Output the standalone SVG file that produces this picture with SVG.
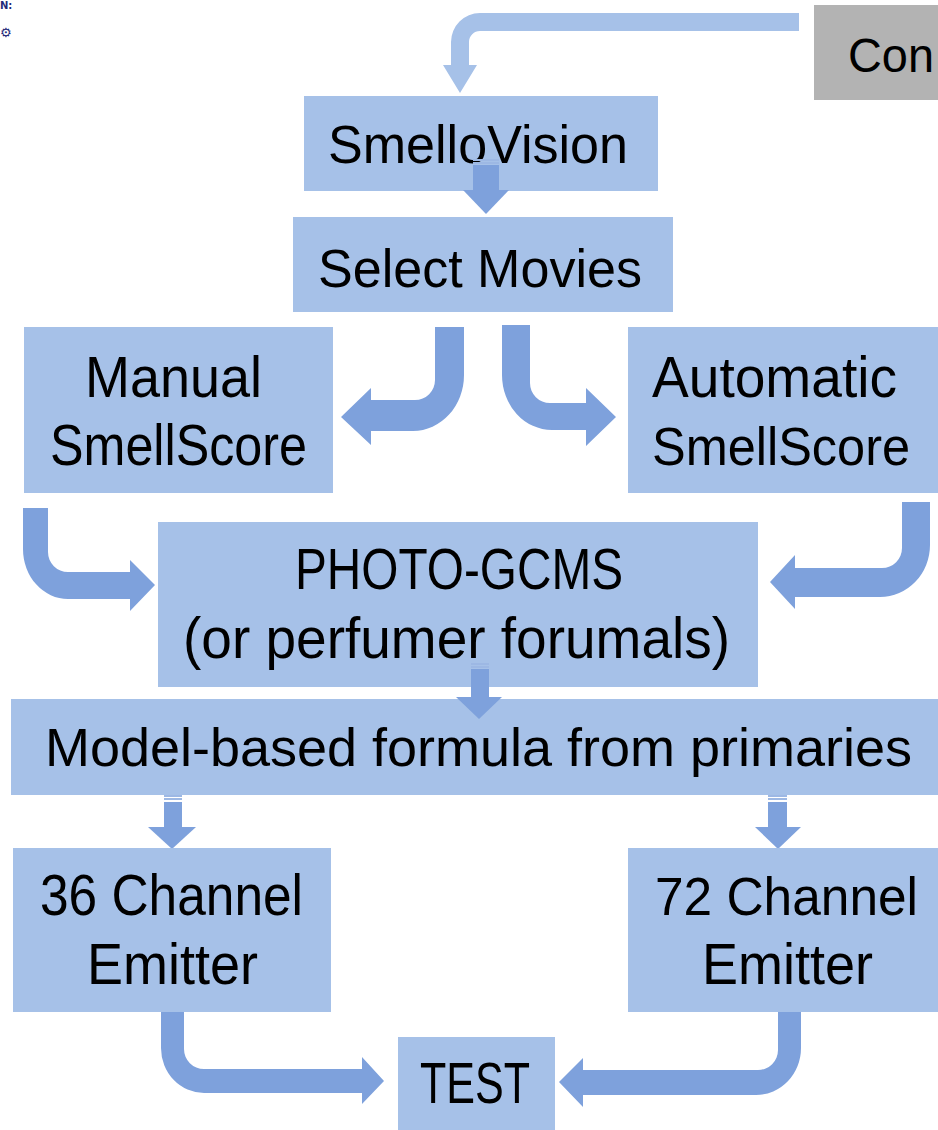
<svg xmlns="http://www.w3.org/2000/svg" width="938" height="1130" viewBox="0 0 938 1130">
<style>
.box{fill:#A6C1E8}
.gray{fill:#B3B3B3}
.t{font-family:"Liberation Sans",Arial,sans-serif;font-size:58px;fill:#000}
.s{font-size:54px}
.arr{fill:#7EA1DC}
.arrl{fill:#A6C1E8}
.stripe{fill:#9DB8E4}
.mark{font-family:"DejaVu Sans",sans-serif;fill:#1F2A7A}
</style>
<rect width="938" height="1130" fill="#fff"/>
<g id="corner-marks">
<text class="mark" x="0" y="9" style="font-size:10px;font-weight:bold">N:</text>
<text class="mark" x="0" y="37" style="font-size:13px">⚙</text>
</g>
<g id="connectors">
<path class="arrl" d="M799,13 H480 A29,29 0 0 0 451,42 V65 H443 L460,93 L477,65 H469 V42 A11,11 0 0 1 480,31 H799 Z"/>
<path class="arr" d="M435,327 H464 V375 A51,56 0 0 1 413,431 H371 V445 L341,417 L371,388 V400 H415 A20,20 0 0 0 435,380 Z"/>
<path class="arr" d="M502,325 H530 V383 A20,20 0 0 0 550,403 H586 V388 L616,417 L586,446 V430 H552 A50,55 0 0 1 502,375 Z"/>
<path class="arr" d="M23,508 H48 V552 A20,20 0 0 0 68,572 H130 V560 L155,585 L130,611 V599 H68 A45,50 0 0 1 23,549 Z"/>
<path class="arr" d="M902,502 H930 V545 A50,52 0 0 1 880,597 H795 V609 L770,582 L795,555 V568 H882 A20,20 0 0 0 902,548 Z"/>
<g id="arr-model-36">
<rect class="arr" x="164" y="802" width="18" height="26"/>
<rect class="stripe" x="164" y="795" width="18" height="2"/>
<rect class="stripe" x="164" y="798" width="18" height="2"/>
<path class="arr" d="M148,827 H196 L172,849 Z"/>
</g>
<g id="arr-model-72">
<rect class="arr" x="768" y="802" width="19" height="26"/>
<rect class="stripe" x="768" y="795" width="19" height="2"/>
<rect class="stripe" x="768" y="798" width="19" height="2"/>
<path class="arr" d="M755,827 H801 L778,849 Z"/>
</g>
<path class="arr" d="M161,1012 H184 V1049 A20,20 0 0 0 204,1069 H362 V1057 L384,1081 L362,1104 V1093 H204 A43,45 0 0 1 161,1048 Z"/>
<path class="arr" d="M778,1012 H801 V1048 A45,47 0 0 1 756,1095 H583 V1107 L559,1082 L583,1058 V1070 H758 A20,20 0 0 0 778,1050 Z"/>
</g>
<g id="node-con">
<rect class="gray" x="814" y="5" width="124" height="95"/>
<text class="t" x="848" y="72" style="font-size:48px" textLength="86" lengthAdjust="spacingAndGlyphs">Con</text>
</g>
<g id="node-smellovision">
<rect class="box" x="304" y="96" width="354" height="95"/>
<text class="t s" x="328" y="163" textLength="300" lengthAdjust="spacingAndGlyphs">SmelloVision</text>
</g>
<g id="node-select-movies">
<rect class="box" x="293" y="217" width="380" height="95"/>
<text class="t s" x="318" y="287" textLength="324" lengthAdjust="spacingAndGlyphs">Select Movies</text>
</g>
<g id="node-manual">
<rect class="box" x="24" y="327" width="309" height="166"/>
<text class="t" x="85" y="397" textLength="177" lengthAdjust="spacingAndGlyphs">Manual</text>
<text class="t" x="50" y="465" textLength="257" lengthAdjust="spacingAndGlyphs">SmellScore</text>
</g>
<g id="node-automatic">
<rect class="box" x="628" y="327" width="310" height="166"/>
<text class="t" x="652" y="397" textLength="245" lengthAdjust="spacingAndGlyphs">Automatic</text>
<text class="t s" x="652" y="465" textLength="258" lengthAdjust="spacingAndGlyphs">SmellScore</text>
</g>
<g id="node-photo-gcms">
<rect class="box" x="158" y="522" width="600" height="165"/>
<text class="t" x="295" y="589" textLength="328" lengthAdjust="spacingAndGlyphs">PHOTO-GCMS</text>
<text class="t" x="183" y="658" textLength="547" lengthAdjust="spacingAndGlyphs">(or perfumer forumals)</text>
</g>
<g id="node-model">
<rect class="box" x="11" y="699" width="927" height="96"/>
<text class="t s" x="45" y="766" textLength="867" lengthAdjust="spacingAndGlyphs">Model-based formula from primaries</text>
</g>
<g id="node-36">
<rect class="box" x="13" y="848" width="318" height="164"/>
<text class="t" x="40" y="915" textLength="263" lengthAdjust="spacingAndGlyphs">36 Channel</text>
<text class="t" x="87" y="984" textLength="171" lengthAdjust="spacingAndGlyphs">Emitter</text>
</g>
<g id="node-72">
<rect class="box" x="628" y="848" width="310" height="164"/>
<text class="t s" x="655" y="915" textLength="263" lengthAdjust="spacingAndGlyphs">72 Channel</text>
<text class="t" x="702" y="984" textLength="171" lengthAdjust="spacingAndGlyphs">Emitter</text>
</g>
<g id="node-test">
<rect class="box" x="398" y="1037" width="157" height="93"/>
<text class="t" x="420" y="1103" textLength="110" lengthAdjust="spacingAndGlyphs">TEST</text>
</g>
<g id="overlay-arrows">
<g id="arr-smello-select">
<rect class="arr" x="473" y="165" width="26" height="26"/>
<rect class="stripe" x="473" y="159" width="26" height="2"/>
<rect class="stripe" x="473" y="162" width="26" height="2"/>
<path class="arr" d="M463,190 H509 L486,214 Z"/>
</g>
<g id="arr-photo-model">
<rect class="arr" x="471" y="669" width="18" height="29"/>
<rect class="stripe" x="471" y="663" width="18" height="2"/>
<rect class="stripe" x="471" y="666" width="18" height="2"/>
<path class="arr" d="M456,697 H502 L479,719 Z"/>
</g>
</g>
</svg>
